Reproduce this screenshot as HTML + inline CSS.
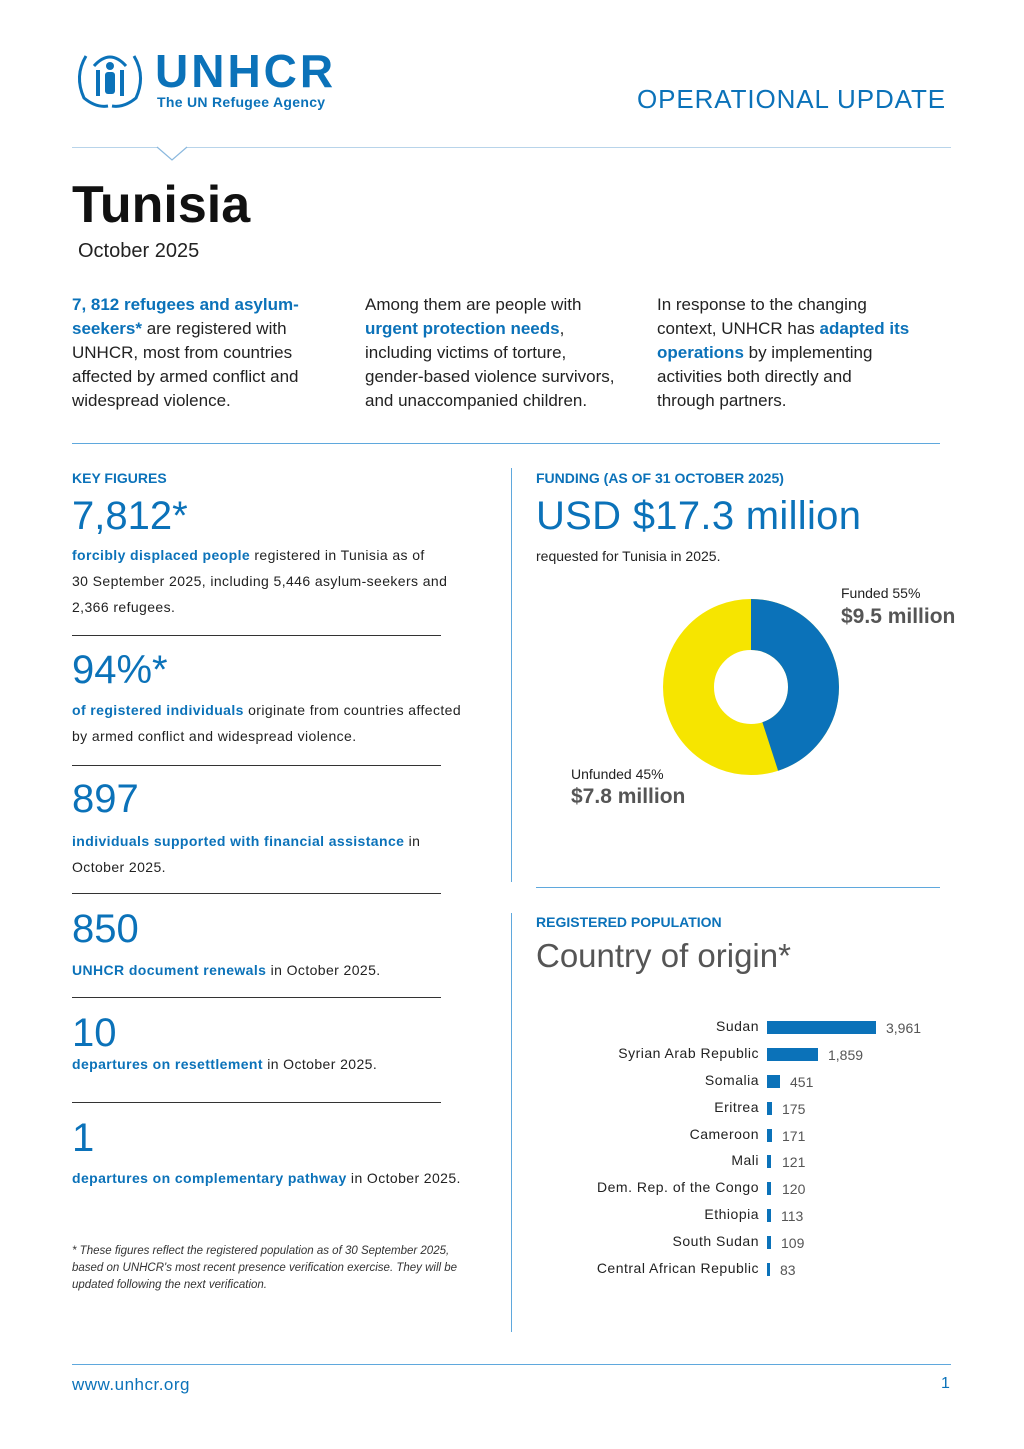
<!DOCTYPE html>
<html><head><meta charset="utf-8"><style>
body{margin:0;width:1024px;height:1449px;background:#fff;position:relative;font-family:"Liberation Sans",Arial,sans-serif;color:#222;overflow:hidden}
.a{position:absolute;white-space:nowrap}
.b{color:#0b72b9}
.bb{color:#0b72b9;font-weight:bold}
.line{position:absolute;background:#5fa8dd;height:1px}
.gl{position:absolute;background:#333;height:1px}
.p{font-size:17px;line-height:24px}
.s{font-size:14px;line-height:26px;letter-spacing:0.4px}
.big{font-size:40px;color:#0b72b9}
.lab{font-size:14px;font-weight:bold;color:#0b72b9}
.bar{position:absolute;background:#0b72b9}
.cn{position:absolute;right:265px;font-size:14px;white-space:nowrap;letter-spacing:0.5px}
.cv{position:absolute;font-size:14px;color:#555}
</style></head><body>
<svg class="a" style="left:72px;top:48px" width="76" height="62" viewBox="0 0 76 62">
<g fill="none" stroke="#0b72b9" stroke-width="3">
<path d="M14 8 Q2 28 12 50 Q24 60 36 58"/><path d="M62 8 Q74 28 64 50 Q52 60 40 58"/>
<path d="M22 18 Q38 0 54 18"/></g>
<g fill="#0b72b9"><circle cx="38" cy="18" r="4"/><rect x="33" y="24" width="10" height="22" rx="3"/><rect x="24" y="22" width="4" height="26"/><rect x="48" y="22" width="4" height="26"/></g>
</svg>
<div class="a" style="left:155px;top:46px;font-size:46px;font-weight:bold;color:#0b72b9;letter-spacing:3px;line-height:50px">UNHCR</div>
<div class="a" style="left:157px;top:94px;font-size:14px;font-weight:bold;color:#0b72b9;letter-spacing:0.3px">The UN Refugee Agency</div>
<div class="a" style="left:637px;top:84px;font-size:26px;color:#0b72b9;letter-spacing:0.9px">OPERATIONAL UPDATE</div>
<div class="line" style="left:72px;top:147px;width:879px;background:#b8d4ea"></div>
<svg class="a" style="left:156px;top:146px" width="32" height="16"><path d="M1 1 L16 14 L31 1" fill="#fff" stroke="#8ab8de" stroke-width="1.2"/></svg>
<div class="a" style="left:72px;top:175px;font-size:52px;font-weight:bold;color:#111">Tunisia</div>
<div class="a" style="left:78px;top:240px;font-size:20px">October 2025</div>
<div class="a p" style="left:72px;top:293px"><span class="bb">7, 812 refugees and asylum-<br>seekers*</span> are registered with<br>UNHCR, most from countries<br>affected by armed conflict and<br>widespread violence.</div>
<div class="a p" style="left:365px;top:293px">Among them are people with<br><span class="bb">urgent protection needs</span>,<br>including victims of torture,<br>gender-based violence survivors,<br>and unaccompanied children.</div>
<div class="a p" style="left:657px;top:293px">In response to the changing<br>context, UNHCR has <span class="bb">adapted its<br>operations</span> by implementing<br>activities both directly and<br>through partners.</div>
<div class="line" style="left:72px;top:443px;width:868px"></div>
<div class="line" style="left:511px;top:468px;width:1px;height:414px"></div>
<div class="line" style="left:511px;top:913px;width:1px;height:419px"></div>
<div class="line" style="left:536px;top:887px;width:404px"></div>
<div class="a lab" style="left:72px;top:470px">KEY FIGURES</div>
<div class="a big" style="left:72px;top:494px">7,812*</div>
<div class="a s" style="left:72px;top:542px"><span class="bb">forcibly displaced people</span> registered in Tunisia as of<br>30 September 2025, including 5,446 asylum-seekers and<br>2,366 refugees.</div>
<div class="gl" style="left:72px;top:635px;width:369px"></div>
<div class="a big" style="left:72px;top:648px">94%*</div>
<div class="a s" style="left:72px;top:697px"><span class="bb">of registered individuals</span> originate from countries affected<br>by armed conflict and widespread violence.</div>
<div class="gl" style="left:72px;top:765px;width:369px"></div>
<div class="a big" style="left:72px;top:777px">897</div>
<div class="a s" style="left:72px;top:828px"><span class="bb">individuals supported with financial assistance</span> in<br>October 2025.</div>
<div class="gl" style="left:72px;top:893px;width:369px"></div>
<div class="a big" style="left:72px;top:907px">850</div>
<div class="a s" style="left:72px;top:957px"><span class="bb">UNHCR document renewals</span> in October 2025.</div>
<div class="gl" style="left:72px;top:997px;width:369px"></div>
<div class="a big" style="left:72px;top:1011px">10</div>
<div class="a s" style="left:72px;top:1051px"><span class="bb">departures on resettlement</span> in October 2025.</div>
<div class="gl" style="left:72px;top:1102px;width:369px"></div>
<div class="a big" style="left:72px;top:1116px">1</div>
<div class="a s" style="left:72px;top:1165px"><span class="bb">departures on complementary pathway</span> in October 2025.</div>
<div class="a" style="left:72px;top:1243px;font-size:11.5px;font-style:italic;line-height:17px;color:#333">* These figures reflect the registered population as of 30 September 2025,<br>based on UNHCR's most recent presence verification exercise. They will be<br>updated following the next verification.</div>
<div class="a lab" style="left:536px;top:470px">FUNDING (AS OF 31 OCTOBER 2025)</div>
<div class="a big" style="left:536px;top:494px;letter-spacing:0.3px">USD $17.3 million</div>
<div class="a" style="left:536px;top:548px;font-size:14px">requested for Tunisia in 2025.</div>
<svg class="a" style="left:663px;top:599px" width="176" height="176" viewBox="-88 -88 176 176">
<circle r="62.5" fill="none" stroke="#f6e500" stroke-width="51"/>
<circle r="62.5" fill="none" stroke="#0b72b9" stroke-width="51" stroke-dasharray="176.7 500" transform="rotate(-90)"/>
</svg>
<div class="a" style="left:841px;top:585px;font-size:14px">Funded 55%</div>
<div class="a" style="left:841px;top:605px;font-size:21px;font-weight:bold;color:#555">$9.5 million</div>
<div class="a" style="left:571px;top:766px;font-size:14px">Unfunded 45%</div>
<div class="a" style="left:571px;top:785px;font-size:21px;font-weight:bold;color:#555">$7.8 million</div>
<div class="a lab" style="left:536px;top:914px">REGISTERED POPULATION</div>
<div class="a" style="left:536px;top:937px;font-size:33px;color:#555">Country of origin*</div>
<div class="cn" style="top:1018px">Sudan</div><div class="bar" style="left:767px;top:1021px;width:109px;height:13px"></div><div class="cv" style="left:886px;top:1020px">3,961</div>
<div class="cn" style="top:1045px">Syrian Arab Republic</div><div class="bar" style="left:767px;top:1048px;width:51px;height:13px"></div><div class="cv" style="left:828px;top:1047px">1,859</div>
<div class="cn" style="top:1072px">Somalia</div><div class="bar" style="left:767px;top:1075px;width:13px;height:13px"></div><div class="cv" style="left:790px;top:1074px">451</div>
<div class="cn" style="top:1099px">Eritrea</div><div class="bar" style="left:767px;top:1102px;width:5px;height:13px"></div><div class="cv" style="left:782px;top:1101px">175</div>
<div class="cn" style="top:1126px">Cameroon</div><div class="bar" style="left:767px;top:1129px;width:5px;height:13px"></div><div class="cv" style="left:782px;top:1128px">171</div>
<div class="cn" style="top:1152px">Mali</div><div class="bar" style="left:767px;top:1155px;width:4px;height:13px"></div><div class="cv" style="left:782px;top:1154px">121</div>
<div class="cn" style="top:1179px">Dem. Rep. of the Congo</div><div class="bar" style="left:767px;top:1182px;width:4px;height:13px"></div><div class="cv" style="left:782px;top:1181px">120</div>
<div class="cn" style="top:1206px">Ethiopia</div><div class="bar" style="left:767px;top:1209px;width:4px;height:13px"></div><div class="cv" style="left:781px;top:1208px">113</div>
<div class="cn" style="top:1233px">South Sudan</div><div class="bar" style="left:767px;top:1236px;width:4px;height:13px"></div><div class="cv" style="left:781px;top:1235px">109</div>
<div class="cn" style="top:1260px">Central African Republic</div><div class="bar" style="left:767px;top:1263px;width:3px;height:13px"></div><div class="cv" style="left:780px;top:1262px">83</div>
<div class="line" style="left:72px;top:1364px;width:879px"></div>
<div class="a" style="left:72px;top:1375px;font-size:17px;color:#0b72b9;letter-spacing:0.5px">www.unhcr.org</div>
<div class="a" style="left:941px;top:1375px;font-size:16px;color:#0b72b9">1</div>
</body></html>
